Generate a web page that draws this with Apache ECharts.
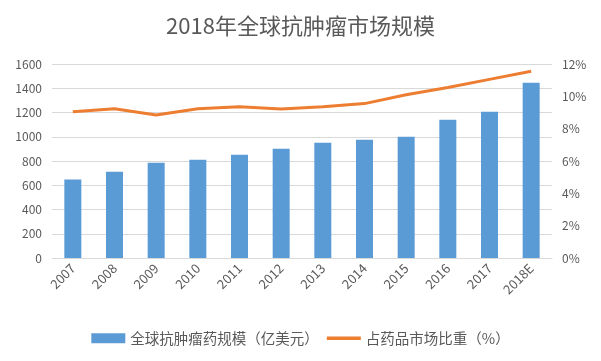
<!DOCTYPE html>
<html><head><meta charset="utf-8">
<script src="https://cdn.jsdelivr.net/npm/echarts@6/dist/echarts.min.js"></script>
<style>html,body{margin:0;padding:0;background:#fff}#c{width:601px;height:361px}</style>
</head><body><div id="c"></div>
<script>
const categories = ['2007','2008','2009','2010','2011','2012','2013','2014','2015','2016','2017','2018E'];
const marketSize = [648, 712, 786, 811, 852, 902, 951, 976, 1001, 1141, 1207, 1446];
const shareOfPharma = [9.05, 9.23, 8.84, 9.23, 9.36, 9.21, 9.36, 9.55, 10.1, 10.55, 11.05, 11.55];
const leftTicks = {min: 0, max: 1600, interval: 200};
const rightTicks = {min: 0, max: 12, interval: 2};
const titleText = '2018年全球抗肿瘤市场规模';
const seriesNames = ['全球抗肿瘤药规模（亿美元）', '占药品市场比重（%）'];

const font = '"Noto Sans CJK SC", "Noto Sans", sans-serif';
const chart = echarts.init(document.getElementById('c'), null, {renderer: 'canvas'});
chart.setOption({
  animation: false,
  title: {text: titleText, left: 'center', top: 10,
    textStyle: {fontFamily: font, fontSize: 22, fontWeight: 'normal', color: '#595959'}},
  grid: {left: 52, right: 49, top: 64, bottom: 103},
  legend: {top: 326, left: 'center', itemGap: 8,
    textStyle: {fontFamily: font, fontSize: 14.5, color: '#595959'},
    data: [
      {name: seriesNames[0], icon: 'rect', itemStyle: {color: '#5B9BD5'}},
      {name: seriesNames[1], icon: 'path://M0,0 L37,0 L37,4 L0,4 Z', itemStyle: {color: '#ED7D31'}}
    ],
    itemWidth: 34, itemHeight: 10},
  xAxis: {type: 'category', data: categories,
    axisLine: {lineStyle: {color: '#D9D9D9'}}, axisTick: {show: false},
    axisLabel: {rotate: 45, color: '#595959', fontFamily: font, fontSize: 13, interval: 0, margin: 8}},
  yAxis: [
    {type: 'value', min: leftTicks.min, max: leftTicks.max, interval: leftTicks.interval,
      axisLine: {show: false}, axisTick: {show: false},
      axisLabel: {color: '#595959', fontFamily: font, fontSize: 12, margin: 10, formatter: v => String(v)},
      splitLine: {lineStyle: {color: '#D9D9D9'}}},
    {type: 'value', min: rightTicks.min, max: rightTicks.max, interval: rightTicks.interval,
      axisLine: {show: false}, axisTick: {show: false},
      axisLabel: {color: '#595959', fontFamily: font, fontSize: 12, margin: 10, formatter: '{value}%'},
      splitLine: {show: false}}
  ],
  series: [
    {name: seriesNames[0], type: 'bar', data: marketSize, barWidth: 17,
      itemStyle: {color: '#5B9BD5'}},
    {name: seriesNames[1], type: 'line', yAxisIndex: 1, data: shareOfPharma,
      symbol: 'none', lineStyle: {color: '#ED7D31', width: 3}, itemStyle: {color: '#ED7D31'}}
  ]
});
</script></body></html>
